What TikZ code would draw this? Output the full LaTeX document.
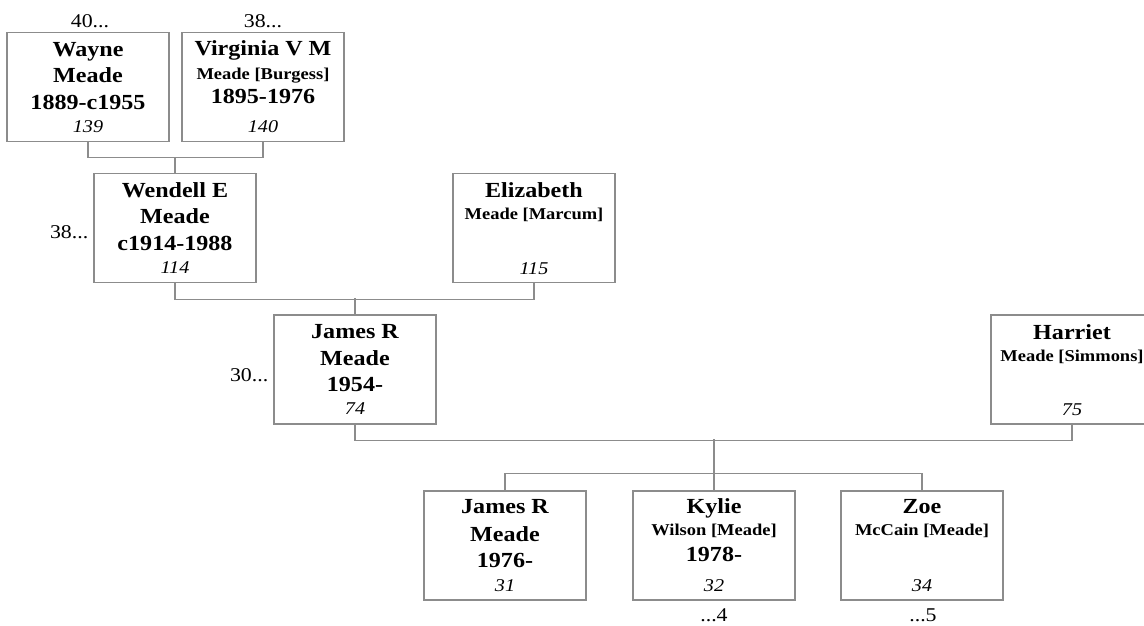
\documentclass[tikz,border=0pt]{standalone}
\usepackage{fontspec}
\setmainfont{Liberation Serif}[FakeStretch=1.12]
\usetikzlibrary{positioning}

\begin{document}
\begin{tikzpicture}[x=1pt, y=-1pt,
    card/.style={draw=black!45, line width=1.1pt, minimum width=162pt, minimum height=109pt, inner sep=0pt},
    given/.style={anchor=base, inner sep=0pt, font=\fontsize{21.5}{25}\selectfont\bfseries},
    sur/.style={anchor=base, inner sep=0pt, font=\fontsize{16.5}{20}\selectfont\bfseries},
    num/.style={anchor=base, inner sep=0pt, font=\fontsize{18}{22}\selectfont\itshape},
    more/.style={anchor=base, inner sep=0pt, font=\fontsize{19.5}{23}\selectfont},
    link/.style={draw=black!45, line width=1.1pt}]
    \useasboundingbox (0,0) rectangle (1144,625);

    % Grandparents
    \node[card] (wayne) at (88,87) {};
    \node[given] (wayne1) at ([yshift=-25pt]wayne.north) {Wayne};
    \node[given] (wayne2) at ([yshift=-51pt]wayne.north) {Meade};
    \node[given] (wayne3) at ([yshift=-78pt]wayne.north) {1889-c1955};
    \node[num] (wayne-no) at ([yshift=10pt]wayne.south) {139};
    \node[more] (wayne-up) at ([xshift=2pt,yshift=4pt]wayne.north) {40...};

    \node[card] (virginia) at (263,87) {};
    \node[given] (virginia1) at ([yshift=-24pt]virginia.north) {Virginia V M};
    \node[sur] (virginia2) at ([yshift=-48pt]virginia.north) {Meade [Burgess]};
    \node[given] (virginia3) at ([yshift=-72pt]virginia.north) {1895-1976};
    \node[num] (virginia-no) at ([yshift=10pt]virginia.south) {140};
    \node[more] (virginia-up) at ([yshift=4pt]virginia.north) {38...};

    % Parents
    \node[card] (wendell) at (175,228) {};
    \node[given] (wendell1) at ([yshift=-25pt]wendell.north) {Wendell E};
    \node[given] (wendell2) at ([yshift=-51pt]wendell.north) {Meade};
    \node[given] (wendell3) at ([yshift=-78pt]wendell.north) {c1914-1988};
    \node[num] (wendell-no) at ([yshift=10pt]wendell.south) {114};
    \node[more, anchor=base east] (wendell-up) at ([xshift=-5pt,yshift=-10pt]wendell.west) {38...};

    \node[card] (elizabeth) at (534,228) {};
    \node[given] (elizabeth1) at ([yshift=-25pt]elizabeth.north) {Elizabeth};
    \node[sur] (elizabeth2) at ([yshift=-47pt]elizabeth.north) {Meade [Marcum]};
    \node[num] (elizabeth-no) at ([yshift=9pt]elizabeth.south) {115};

    % Couple
    \node[card] (jamesp) at (355,369.5) {};
    \node[given] (jamesp1) at ([yshift=-24pt]jamesp.north) {James R};
    \node[given] (jamesp2) at ([yshift=-51pt]jamesp.north) {Meade};
    \node[given] (jamesp3) at ([yshift=-77pt]jamesp.north) {1954-};
    \node[num] (jamesp-no) at ([yshift=10pt]jamesp.south) {74};
    \node[more, anchor=base east] (jamesp-up) at ([xshift=-5pt,yshift=-11.5pt]jamesp.west) {30...};

    \node[card] (harriet) at (1072,369.5) {};
    \node[given] (harriet1) at ([yshift=-25pt]harriet.north) {Harriet};
    \node[sur] (harriet2) at ([yshift=-47pt]harriet.north) {Meade [Simmons]};
    \node[num] (harriet-no) at ([yshift=9pt]harriet.south) {75};

    % Children
    \node[card] (jamesc) at (505,545.5) {};
    \node[given] (jamesc1) at ([yshift=-23pt]jamesc.north) {James R};
    \node[given] (jamesc2) at ([yshift=-51pt]jamesc.north) {Meade};
    \node[given] (jamesc3) at ([yshift=-77pt]jamesc.north) {1976-};
    \node[num] (jamesc-no) at ([yshift=9pt]jamesc.south) {31};

    \node[card] (kylie) at (714,545.5) {};
    \node[given] (kylie1) at ([yshift=-23pt]kylie.north) {Kylie};
    \node[sur] (kylie2) at ([yshift=-45pt]kylie.north) {Wilson [Meade]};
    \node[given] (kylie3) at ([yshift=-71pt]kylie.north) {1978-};
    \node[num] (kylie-no) at ([yshift=9pt]kylie.south) {32};
    \node[more] (kylie-down) at ([yshift=-21pt]kylie.south) {...4};

    \node[card] (zoe) at (922,545.5) {};
    \node[given] (zoe1) at ([yshift=-23pt]zoe.north) {Zoe};
    \node[sur] (zoe2) at ([yshift=-45pt]zoe.north) {McCain [Meade]};
    \node[num] (zoe-no) at ([yshift=9pt]zoe.south) {34};
    \node[more] (zoe-down) at ([xshift=1pt,yshift=-21pt]zoe.south) {...5};

    % Connections
    \draw[link] (wayne.south) -- ++(0,15) -| (virginia.south);
    \draw[link] (wendell.north) -- ++(0,-16);
    \draw[link] (wendell.south) -- ++(0,16) -| (elizabeth.south);
    \draw[link] (jamesp.north) -- ++(0,-16);
    \draw[link] (jamesp.south) -- ++(0,16) -| (harriet.south);
    \draw[link] (kylie.north) -- ++(0,-51);
    \draw[link] (jamesc.north) -- ++(0,-17) -| (zoe.north);
\end{tikzpicture}
\end{document}
